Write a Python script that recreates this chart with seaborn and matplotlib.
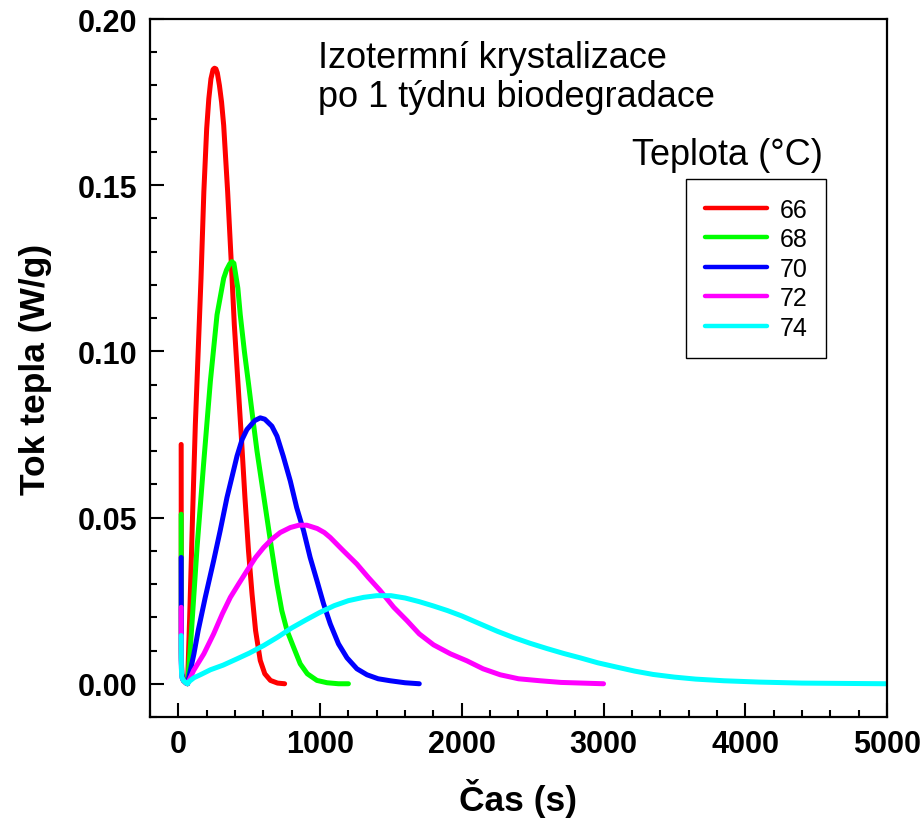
import matplotlib
matplotlib.use("Agg")
import matplotlib.pyplot as plt
import pandas as pd
import seaborn as sns
from matplotlib.ticker import MultipleLocator, FormatStrFormatter

# ---------------- data ----------------
temps = ["66", "68", "70", "72", "74"]
colors = ["#FF0000", "#00FF00", "#0000FF", "#FF00FF", "#00FFFF"]

t66 = [20, 21, 24, 35, 55, 65, 80, 100, 120, 140, 160, 180, 200, 215, 230, 245, 255,
       265, 275, 290, 305, 320, 348, 372, 395, 420, 445, 470, 495, 520, 545, 578, 610,
       650, 700, 750]
q66 = [0.072, 0.010, 0.003, 0.001, 0.0002, 0.0, 0.020, 0.050, 0.078, 0.100, 0.122,
       0.148, 0.167, 0.176, 0.182, 0.1848, 0.1852, 0.1850, 0.1838, 0.180, 0.175, 0.168,
       0.148, 0.128, 0.108, 0.091, 0.074, 0.056, 0.040, 0.027, 0.016, 0.007, 0.003,
       0.001, 0.0002, 0.0]

t68 = [20, 21, 24, 35, 55, 65, 85, 132, 178, 226, 273, 320, 340, 362, 378, 392, 420,
       437, 466, 496, 525, 555, 590, 625, 660, 696, 730, 767, 813, 860, 910, 978, 1050,
       1130, 1200]
q68 = [0.051, 0.008, 0.003, 0.001, 0.0002, 0.0, 0.011, 0.041, 0.066, 0.091, 0.111,
       0.122, 0.1245, 0.1263, 0.127, 0.1265, 0.119, 0.111, 0.100, 0.090, 0.080, 0.070,
       0.060, 0.050, 0.040, 0.030, 0.022, 0.016, 0.011, 0.006, 0.003, 0.001, 0.0003,
       0.0, 0.0]

t70 = [20, 21, 24, 35, 55, 65, 85, 110, 140, 190, 249, 295, 343, 380, 414, 450, 484,
       540, 578, 610, 660, 696, 740, 790, 835, 884, 930, 978, 1025, 1072, 1130, 1190,
       1260, 1331, 1410, 1495, 1600, 1700]
q70 = [0.038, 0.007, 0.003, 0.001, 0.0002, 0.0, 0.004, 0.009, 0.016, 0.026, 0.037,
       0.046, 0.056, 0.0625, 0.0685, 0.0735, 0.0765, 0.0792, 0.080, 0.0796, 0.0775,
       0.0745, 0.0685, 0.061, 0.053, 0.046, 0.038, 0.031, 0.024, 0.018, 0.012, 0.0078,
       0.0045, 0.0027, 0.0015, 0.0009, 0.0003, 0.0]

t72 = [20, 21, 24, 35, 55, 65, 108, 180, 249, 310, 367, 425, 484, 545, 602, 660, 719,
       790, 850, 907, 980, 1030, 1072, 1160, 1260, 1340, 1425, 1520, 1613, 1700, 1801,
       1920, 2036, 2150, 2271, 2400, 2553, 2700, 2850, 3000]
q72 = [0.023, 0.006, 0.002, 0.001, 0.0002, 0.0, 0.004, 0.009, 0.015, 0.021, 0.026,
       0.030, 0.034, 0.038, 0.041, 0.0435, 0.0455, 0.0470, 0.0477, 0.0477, 0.0467,
       0.0455, 0.0440, 0.0402, 0.036, 0.032, 0.028, 0.023, 0.019, 0.015, 0.0117, 0.0090,
       0.0069, 0.0045, 0.0027, 0.0015, 0.0009, 0.0004, 0.0002, 0.0]

t74 = [20, 21, 24, 35, 55, 65, 80, 110, 160, 226, 316, 414, 500, 602, 700, 800, 900,
       1000, 1100, 1200, 1307, 1400, 1500, 1600, 1700, 1800, 1900, 2000, 2130, 2250,
       2365, 2480, 2600, 2720, 2835, 2960, 3094, 3220, 3350, 3500, 3650, 3850, 4100,
       4400, 4700, 5000]
q74 = [0.0145, 0.005, 0.002, 0.001, 0.0002, 0.0, 0.0008, 0.0018, 0.0028, 0.0042,
       0.0056, 0.0075, 0.0092, 0.0115, 0.0140, 0.0168, 0.0192, 0.0215, 0.0235, 0.0250,
       0.0260, 0.0265, 0.0265, 0.0258, 0.0247, 0.0234, 0.0220, 0.0204, 0.0180, 0.0158,
       0.0139, 0.0122, 0.0106, 0.0091, 0.0078, 0.0063, 0.0050, 0.0038, 0.0028, 0.0020,
       0.0014, 0.0009, 0.0005, 0.0002, 0.0001, 0.0]

xticks = [0, 1000, 2000, 3000, 4000, 5000]
yticks = [0.00, 0.05, 0.10, 0.15, 0.20]

series_t = [t66, t68, t70, t72, t74]
series_q = [q66, q68, q70, q72, q74]

frames = []
for temp, tt, qq in zip(temps, series_t, series_q):
    frames.append(pd.DataFrame({"Čas (s)": tt, "Tok tepla (W/g)": qq, "Teplota": temp}))
df = pd.concat(frames, ignore_index=True)

# ---------------- style ----------------
sns.set_style("white")
plt.rcParams["font.family"] = ["Liberation Sans", "DejaVu Sans"]
plt.rcParams["text.color"] = "black"
plt.rcParams["axes.labelcolor"] = "black"
plt.rcParams["xtick.color"] = "black"
plt.rcParams["ytick.color"] = "black"

fig = plt.figure(figsize=(9.23, 8.2), dpi=100)
ax = fig.add_axes([0.1625, 0.1244, 0.7985, 0.8512])

sns.lineplot(data=df, x="Čas (s)", y="Tok tepla (W/g)", hue="Teplota",
             hue_order=temps, palette=colors, sort=False, estimator=None,
             linewidth=3.6, ax=ax, legend=True)
for ln in ax.get_lines():
    ln.set_solid_capstyle("round")
    ln.set_solid_joinstyle("round")

ax.set_xlim(-200, 5000)
ax.set_ylim(-0.01, 0.2)
ax.xaxis.set_major_locator(MultipleLocator(1000))
ax.xaxis.set_minor_locator(MultipleLocator(200))
ax.yaxis.set_major_locator(MultipleLocator(0.05))
ax.yaxis.set_minor_locator(MultipleLocator(0.01))
ax.set_xticks(xticks)
ax.set_yticks(yticks)
ax.xaxis.set_major_formatter(FormatStrFormatter("%d"))
ax.yaxis.set_major_formatter(FormatStrFormatter("%.2f"))

ax.tick_params(which="both", direction="in", top=False, right=False,
               bottom=True, left=True, width=1.5, colors="black")
ax.tick_params(which="major", length=10, pad=9, labelsize=22)
ax.tick_params(which="minor", length=5)
for lab in ax.get_xticklabels() + ax.get_yticklabels():
    lab.set_fontweight("bold")
    lab.set_color("black")

for sp in ax.spines.values():
    sp.set_visible(True)
    sp.set_linewidth(1.6)
    sp.set_color("black")

ax.set_xlabel("Čas (s)", fontsize=25.5, fontweight="bold", color="black")
ax.set_ylabel("Tok tepla (W/g)", fontsize=25.5, fontweight="bold", color="black")
ax.xaxis.set_label_coords(0.5, -0.087)
ax.yaxis.set_label_coords(-0.133, 0.5)

ax.text(0.228, 0.931, "Izotermní krystalizace", transform=ax.transAxes,
        fontsize=26, va="baseline", ha="left", color="black")
ax.text(0.228, 0.875, "po 1 týdnu biodegradace", transform=ax.transAxes,
        fontsize=26, va="baseline", ha="left", color="black")
ax.text(0.913, 0.792, "Teplota (°C)", transform=ax.transAxes,
        fontsize=26, va="baseline", ha="right", color="black")

handles, labels = ax.get_legend_handles_labels()
leg = ax.legend(handles, labels, loc="upper left", bbox_to_anchor=(0.727, 0.771),
                bbox_transform=ax.transAxes, borderaxespad=0, fontsize=18,
                frameon=True, fancybox=False, framealpha=1, edgecolor="black",
                borderpad=0.75, labelspacing=0.22, handlelength=2.5,
                handletextpad=0.5)
leg.get_frame().set_linewidth(1.0)
for txt in leg.get_texts():
    txt.set_color("black")
for h in leg.get_lines():
    h.set_linewidth(3.2)
    h.set_solid_capstyle("round")

fig.savefig("out.png", dpi=100)
